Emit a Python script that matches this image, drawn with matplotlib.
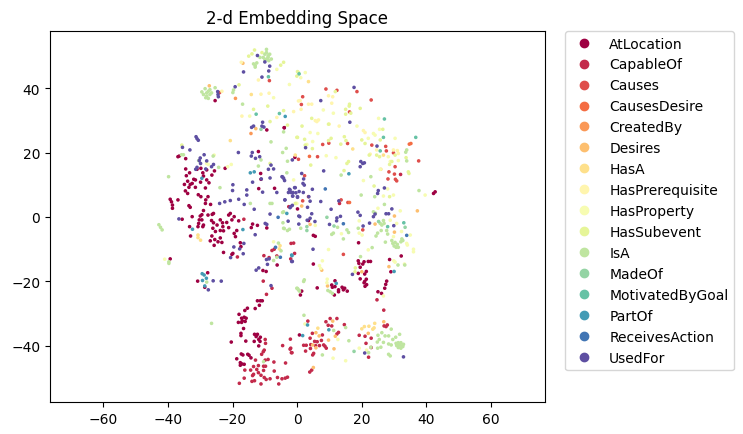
import numpy as np
import matplotlib
matplotlib.use("Agg")
import matplotlib.pyplot as plt
from matplotlib.lines import Line2D

relations = ["AtLocation", "CapableOf", "Causes", "CausesDesire", "CreatedBy", "Desires", "HasA",
             "HasPrerequisite", "HasProperty", "HasSubevent", "IsA", "MadeOf", "MotivatedByGoal",
             "PartOf", "ReceivesAction", "UsedFor"]

# points, in data units
at_location = [(-36.9,18.7),(-36.5,18.9),(-34.5,18.1),(-25.4,36.1),(-4,27.7),(-12,20.3),(-34.5,14.9),(-29.8,15.1),
    (-33.3,13.7),(-34.3,12.8),(-31,14.8),(-29.2,13.7),(-28,14.6),(-25.6,14.3),(-26.4,13),(-29,12.7),(-32,11.7),
    (-31.5,11.5),(-33.9,11.1),(-29.9,10.8),(-28,11.5),(-27.3,10.6),(-32.5,10.4),(-33.1,10.1),(-34.9,10.1),
    (-33.5,9.2),(-28.4,9),(-31.5,9.2),(-34.6,8.1),(-33.9,7.3),(-30.6,6.9),(-29.8,6.3),(-27.6,6.3),(-28.3,5.3),
    (-39.3,5.5),(-38.9,4.7),(-36.9,5.3),(-38.6,3.7),(-38.6,2.7),(-33.5,3.5),(-33.1,3),(-28.4,4.2),(-26.8,3.9),
    (-11.3,13.5),(-11.2,11.7),(-7,8.9),(-11.9,8.8),(-9.4,27),(-22.3,15.1),(-35.6,-0.7),(-32.5,0.1),(-29,2),
    (-27.6,0.6),(-30,0.3),(-29.5,0.7),(-30.3,-0.9),(-29.5,-0.9),(-30.5,-2),(-29,-2.5),(-30.7,-3),(-33.3,-3),
    (-33,-5.9),(-29.2,-3),(-26.5,-1.1),(-25.9,1.1),(-26.3,0.8),(-25.9,-1.8),(-24.8,-2.5),(-26.1,-3.5),(-25.3,-4.5),
    (-26.4,-5.9),(-23.8,-0.9),(-23.1,-1.8),(-21.8,-1.7),(-23.8,-4.2),(-22.8,-4.3),(-23,-3),(-21.2,-3.3),(-20.7,1.1),
    (-21.2,0.6),(-19.5,0.1),(-20.2,-0.9),(-18.1,-1.2),(-19.5,-5.1),(-18.7,-4.2),(-19.1,-6.1),(-26.9,-7.4),(-25.5,-7),
    (-24.5,-7.7),(-23.3,-7.9),(-23.8,-6.5),(-25.7,-8.8),(-17.6,-8),(-17.4,-9.2),(-22.8,-11),(-19.9,-11.3),(-20.2,-11.6),
    (-12.3,-2.6),(-13.8,-2.2),(-14.2,-3.3),(-9.4,-3.4),(-39.3,-13),(-27.7,-17.3),(-30.8,-19.9),(-28.6,-21.8),
    (-10.6,-16.6),(-9.6,-16.9),(-6.2,-14.9),(-12.3,-26),(-11.4,-26),(-10.8,-26),(-11.7,-27.4),(-13,-28.4),(-15.4,-28.3),
    (-16.2,-29),(-18,-30.2),(-17.2,-31.4),(-16.4,-31.1),(-15.8,-31.4),(-17,-32.2),(-16.1,-32.4),(-18.2,-32.7),
    (-17.2,-32.7),(-16.6,-34.6),(-17.4,-36.1),(-17.4,-36.8),(-15.9,-38.5),(-20.4,-38.8),(-13.2,-36.4),(-12.3,-36.4),
    (-12.7,-37.1),(-11.4,-37.3),(-11.9,-38),(-13.3,-38.6),(-11.5,-38.6),(-11.9,-40),(-17.3,-42.5),(-16.8,-42.8),
    (-15.3,-42.6),(-14.9,-42.9),(-18.7,-44),(-14.3,-43.7),(-17.6,-45.2),(-17.1,-45.6),(-16.4,-45.7),(-17.6,-46),
    (0.7,-36.6),(-4,27.7),(42.2,7.3),(42.7,7.8),(-0.7,18.5),(0.1,2.5),(3.5,-1.1),(5,-5.7),(5.6,-6),(19,-8),(32.2,-12.1),
    (28.6,-13.2),(18.9,-13.6),(19.1,-14.4),(19.5,-15.6),(20.7,-13.9),(20.3,-14.6),(22,-13.8),(22.7,-13.8),(18.9,-17.5),
    (21.4,-16.9),(20.9,-17.7),(19.5,-19.2),(21.4,-19.3),(20.9,-20),(20.7,-20.4),(21.5,-21),(21,-21.5),(29,-17),
    (27.7,-19.9),(27.4,-20.9),(27.1,-22.1),(25,-23.2),(26.1,-23.7),(11.7,-19.8),(10.7,-21.1),(11.7,-21.6),(10.9,-21.8),
    (13.9,-21.8),(14.7,-22.1),(12.8,-22.6),(12.8,-23.2),(14.3,-22.6),(15.5,-23),(11.5,-24.2),(6.2,-22),(5,-14.6),
    (1,-24.2),(1.4,-23)]
capable_of = [(-10.5,-19.9),(-7.8,-22.1),(-9.5,-24),(-9.9,-38),(-9.8,-39.2),(-10.2,-41.3),(-10.5,-41.8),(-11,-42.6),
    (-2.1,-37.9),(-4.5,-39.9),(-2,-40.7),(-2.2,-41),(-1.6,-42.1),(-12.9,-44.4),(-9.9,-44.4),(-9,-44.2),(-7.2,-45),
    (-3.6,-45.3),(-12,-46.1),(-13.5,-46.4),(-10.4,-46.3),(-9.8,-46.3),(-14.4,-47.5),(-12.5,-47.3),(-10.4,-47.6),
    (-16.2,-47.5),(-7.1,-47.8),(-12,-48.3),(-13.5,-48.8),(-13.8,-49.2),(-11.2,-49.1),(-16.4,-50),(-10.2,-49.8),
    (-9.6,-50.4),(-8.4,-50.2),(-6.1,-49.8),(-4.7,-50.2),(-3.7,-50),(-3,-49.7),(-14,-51),(-13.2,-50.8),(-17.9,-51.6),
    (-11.2,-51.8),(-5.7,-51.8),(-18.5,-12.4),(-10.3,-12),(-8.7,-12.6),(-6.3,-12.1),(-0.8,-11.3),(-1.9,-8.2),(-1.1,-8.1),
    (-7.1,-10),(-7.8,-10.4),(-16.5,-0.7),(-2,-13),(32,13.2),(-2.6,3.2),(13.1,4.2),(24.7,-25.7),(26.8,-28.9),(3.3,-32.3),
    (8.9,-32.5),(10.2,-31.5),(12.3,-31.5),(14.6,-33.4),(9.6,-33.6),(10.7,-33.8),(12.8,-35.8),(12.3,-36.3),(4.7,-36.1),
    (7.8,-36.6),(4,-37.6),(5.4,-38.6),(6.2,-38.7),(7.5,-38.3),(5.7,-39.9),(2,-39.8),(2.8,-39.8),(4.2,-39.6),(6.9,-39.9),
    (8.2,-39.7),(8.6,-40.1),(4.1,-40.8),(9,-40.7),(2.6,-41.6),(-1.8,-42.1),(5.1,-42.3),(4.8,-42.8),(3.9,-48.1),(4.5,-47.5),
    (19.2,-36.7),(21,-37),(22.9,-37.6),(21.3,-39.2),(22.9,-40.5),(22.1,-43.5),(26.9,-33.8),(27.5,-34),(27.9,-33.5)]
causes = [(8.9,39.7),(12.3,39.3),(18.5,38.9),(1.7,37.3),(22.9,36.3),(1.3,34.9),(16.2,32.6),(9.8,22.9),(7.9,22.5),
    (15.6,22.8),(23.1,22.3),(27.4,21.9),(27.6,20.5),(29.8,19.9),(6.3,18.7),(37.6,17.4),(30.3,15.6),(28.4,14),(30.1,13.3),
    (28.1,11.8),(30.4,11.7),(30.8,11.2),(1.7,5),(13.6,5.3),(15.7,4.5),(2.3,12.8),(3.5,6.3),(0.4,17.9),(14.3,-11.6),
    (20.3,-4),(-8.6,42.3),(-24,38.6)]
causes_desire = [(3.8,18.8),(35.2,22.8),(16.2,4.5),(34.7,22.6)]
created_by = [(-19.1,36.8),(-14.3,25.9)]
desires = [(1.4,3.4),(30.1,0.3),(37.2,1.9),(-12.8,27.4),(-27.2,40.7),(-16.8,47.7),(26.8,-32.5),(22,-36.1),(9.7,-38.2),
    (6.8,-36.9),(5.8,-35.9),(11.8,-37),(11.4,-40.9),(5.8,-40.6),(4.8,-39.7),(11,-32.3),(5,-46.7),(28.4,-15.4),(9.4,-21.4),
    (7.6,-16.5),(20,-17),(4,-2.3),(24.1,-2.2),(30.1,-4.7)]
has_a = [(3.5,42),(-0.6,19.2),(26.7,19.2),(17.2,21.1),(25.9,14.8),(-20.7,23.7),(-14.2,38),(24,-33),(20.8,-34),(20,-34.7),
    (22.2,-33.9),(23.8,-34.4),(23.4,-34.8),(6.4,-34.5),(-30.7,-5.6),(-30.7,-6.4),(-29.9,-7.2),(-5.3,-8.9),(-5.5,-9.9)]
has_prerequisite = [(-23.3,39),(-17.3,48),(-12,42.5),(-11.2,38.1),(-8.7,38.4),(0.4,36),(-17.1,31.3),(-6.3,30.9),(-1.1,32.7),
    (9.7,37.6),(11,37.3),(0.9,36.1),(1.2,33.4),(3.5,35),(4.5,35),(10.7,35.3),(5.6,29.9),(6.6,30.1),(6.1,29.6),(9.9,28.8),
    (13,28.2),(20.5,26.8),(21,26.2),(24.6,20.8),(22.6,19.5),(29.8,20.8),(31,20.6),(31.3,19.7)]
has_property = [(-6.3,45.8),(-7.3,37),(-14.7,31.3),(-2.4,41.1),(-20.4,16.3),(-21.5,15.6),(-25.7,19.2),(-1.1,11.5),(-28,16.6),
    (-27.5,16.3),(-0.3,4.2),(2.5,44.8),(1.1,43.2),(8.1,33.2),(11.2,32.2),(25.2,30.6),(18.5,28.2),(23.6,25.9),(25.5,27.2),
    (30.3,24.4),(4,26.2),(6.4,25.9),(22,24.4),(24.1,25.4),(4.8,23.4),(3,22.5),(9,19),(12,18.4),(28.2,18.7),(31.3,17.5),
    (28.8,17.2),(25.7,14.8),(20.5,11.3),(28,8.7),(26.7,6.5),(29.8,6.8),(39.6,6.8),(31.9,1.9),(25,2.7),(-0.1,4.2),
    (9.7,-10.1),(7.8,-13.6),(6.9,-15.1),(7.3,-16),(9.3,-19.3),(9.2,-20.4),(26.7,-24.5),(29.9,-13.6),(33.2,-14.6),(33.9,-8.2),
    (36,-10),(36,-10.8),(34.1,-8.7),(35,-5.6),(32.3,-4.5),(19.2,-1.2),(30.8,-2),(28.8,-1),(20.1,-5.6),(19.2,-5),(13.7,-5.2),
    (22,-10.2),(29.8,-6.1),(5.6,-2.6),(12.6,-38),(11.1,-43.8),(15,-44.6),(19.2,-40.7),(21.5,-41.3),(2.4,-33.2),(30.3,-14),
    (-41,-13.1),(-7.3,-7.7)]
has_subevent = [(-13.2,51.8),(-14,50.6),(-15,49.9),(-10.9,51),(-5.1,47.1),(-4.2,48),(-18,41),(-13.5,33.4),(-9.1,34.4),(-4.2,33),
    (-8.4,29.6),(-3,28.5),(0.1,24.7),(-35.7,22.3),(0.4,44.8),(-8.4,16.6),(-0.6,4.2),(0.1,45.1),(-0.1,43.7),(11.8,38.9),
    (16.2,35),(16.1,34.4),(15,33.4),(16.6,32.2),(15,31.9),(19.5,33.7),(4.5,30.6),(1.5,28.2),(9.7,28.8),(-0.1,24.7),(2.3,24.1),
    (10.5,24.4),(9.7,23.7),(14.6,24.9),(15.1,23.7),(20,23.9),(21,22.8),(13.5,22.6),(4.7,21.2),(25.7,23.9),(26.5,27.2),(2.5,22.3),
    (4.2,16.1),(15.4,16.6),(15.9,17.2),(22.3,19.2),(24.6,19.2),(25.5,18.7),(30.3,19.2),(33.7,18.4),(29.3,17.2),(28.6,16.3),
    (34.4,14),(34.6,13.5),(14.5,14.4),(23.8,9.6),(28.6,6.3),(18,-15.8),(17.9,-17)]
is_a = [(-29.5,38.8),(-29,38),(-28.5,39.8),(-28,38.5),(-28,37.5),(-27.5,39),(-27,38),(-27.5,36.8),(-28.3,37),(-27,39.5),(-26.5,38.5),
    (-10.5,49.5),(-10,50.5),(-9.5,51),(-9,49.5),(-9.5,49),(-9,50),(-8.5,50.5),(-10,48.8),(-8.8,48.5),(-8,49),(-11.5,49.5),(-9.5,52),
    (-13.5,47.5),(-13,47),(-12.5,47.8),(-13,46.5),(-19.7,39.4),(-19.9,38.6),(-16.9,35),(-25.4,40.1),(-8.1,23.3),(-4.2,26.4),
    (-23.9,9.1),(-39.8,12.5),(-26,18.9),(-35.8,19.3),(-35.2,19.3),(-24.3,15.4),(-30.5,17.5),(-8.4,4.2),(-7.8,4.2),(-4.5,1.4),(-4.2,1.6),
    (-14.5,4.2),(-3.4,21.3),(-4.5,20),(-3,17.3),(-3.2,13.7),(-11.2,17.7),(-12,15.8),(13.6,13),(22.8,12.5),(19.8,6.8),(37.7,8.2),
    (24,6.3),(27,3.9),(33.9,20.8),(33.6,20.1),(33.9,17.4),(23.6,1.6),(24.2,1.2),(-42.8,-2.4),(-42.3,-3.2),(-41.8,-4),(-39.7,-13.9),
    (-39.7,-14.4),(-26.5,-33),(-10.4,-44.9),(0.1,-22.2),(0.7,-23),(-5,-10.5),(-7.3,-13.5),(-6.3,-12.5),(-5.8,-8.1),(-4.4,-1.8),(-4,-3.6),
    (-3,-4.2),(-28,-20.2),(30.6,-39.2),(31.3,-39),(32.1,-39),(32.9,-39.5),(30.8,-39.9),(31.7,-39.7),(32.4,-40),(31.3,-40.5),(32.1,-40.7),
    (32.7,-40.2),(29.6,-8.2),(30.3,-7.9),(31,-8.5),(30,-9),(30.6,-9.4),(31.3,-9.4),(29.3,-7.3),(32.4,-6.8),(32.1,-7.7),(32.7,-7.3),
    (27.3,-7.8),(25.7,-2),(26.7,-1.1),(26.9,-2),(26.2,-2.5),(26,-4.2),(27.7,-4.2),(28,-5.3),(24.9,-5),(24.4,-5.9),(23.2,-9.5),(19.6,-12.3),
    (33.3,-14.9),(31.2,-14.9),(-4.2,-3.5),(-2.4,-3.8),(1.1,-3.5),(12.5,-3.2),(15.4,-4),(15.9,-4.8),(14.3,-6.8),(11.2,-5),(10.7,-5.4),
    (18.9,-3.5),(2.2,-19.5),(2,-20),(-0.1,-22.1),(0.4,-22.6),(9.5,-22.8),(10.2,-23.2),(10.9,-23.7),(2.1,-30.5),(15,-34.3),(11.3,-35.2),
    (7.8,-42.8),(16,-38.4),(25,-36.7),(26.2,-35.9),(27.2,-36.9),(28.3,-36.9),(25.4,-38),(24.8,-38.8),(26.7,-38.9),(28.3,-39.4),(29.1,-39.7),
    (29.6,-38),(30.5,-37.3),(31.7,-36.4),(29.1,-34.8),(25.9,-40.4),(24.9,-40.7),(22.8,-40.4),(22.1,-42.1),(28.3,-42.6),(28.8,-43.1)]
made_of = [(-11.2,27.2),(9.2,-0.1),(17.6,-41.7),(25.2,-1.4),(3,-3),(3,-4.2),(11.4,-2.8),(33.4,-3.2)]
motivated_by_goal = [(0.6,44.4),(27,30.4),(26.7,24.7),(36.7,24.7),(25.7,20.5),(-8.9,43.5),(-12.7,31.9),(-5.5,32.1),(33,-1.8),(28,-3)]
part_of = [(-3.7,31.2),(16,13.4),(-3.2,1.1),(-14.5,13.7),(-13.3,14),(-29.5,12),(-32.4,-3.8),(-16.8,-3.9),(-29.4,-17.6),(-28.8,-18),
    (-28.1,-19),(-29.3,-19.7),(-28.6,-21.4),(-1.6,-12),(3.2,-33.5),(1.7,-36.8),(9.8,-35),(-1.7,-11.8),(12.1,-20.6),(30,-16.9)]
receives_action = [(8.7,8.7),(-5.9,-0.1),(-5.2,-12.5),(-6.7,-9.4),(14.3,-2.1),(33.9,-5.7)]
used_for = [(17.6,40.2),(7.3,36.1),(16.3,29.4),(24.7,22),(2.6,21.5),(-1.5,17.7),(19.7,17.2),(20.3,16.6),(20.8,16.8),(19.5,15.6),(8.2,14.3),
    (1.4,13.5),(-4.7,12.5),(-4.2,12),(-3.9,11.3),(2,11.8),(1.8,10.4),(2.2,9.9),(4.7,8.6),(-0.6,9.1),(-2.4,8.6),(-2.7,7.6),(-1.9,7.6),
    (-0.4,7.5),(0.6,7.9),(1.9,7.6),(-1.4,6.5),(0.1,6.3),(3.6,6.3),(4,4.9),(-3.8,5.3),(7.3,4.8),(-1.5,3.6),(-2.2,2.9),(3.2,3),(10.5,2.4),
    (12.9,5),(0.8,0.1),(4.5,1),(12.3,-0.3),(13.4,0.2),(18.8,1.5),(19.5,0.5),(23.6,0.1),(24.1,0.9),(27.5,1),(28.3,1),(29.3,2.5),(25.1,8.2),
    (24.9,7.3),(27,9),(4,-0.4),(-31.3,24.9),(-31,24.3),(-30.6,23.8),(-35.5,21.6),(-33.2,20.8),(-28.8,19.3),(-30,18.3),(-30.3,17.5),(-28,17.4),
    (-29.9,16.6),(-25.9,16.3),(-26.5,15.6),(-31,15.4),(-28.3,14.9),(-31.4,14.8),(-18.2,20),(-13.9,20),(-14.2,18.9),(-12.9,18.2),(-11.6,18.7),
    (-8.1,16.1),(-8.9,14.8),(-7.3,14.9),(-11.1,11.8),(-8.4,12.1),(-4.5,12.4),(-13.8,10.8),(-19.9,10),(-20,8.2),(-15.6,8.4),(-15.6,6.8),
    (-10.7,7.7),(-6.3,7.6),(-2.2,8.4),(-0.8,9.1),(-1.3,7.6),(-18.1,5.5),(-20.7,5.1),(-22.4,4.7),(-24,4.2),(-16.4,3.9),(-13.3,2.4),(-3.8,5.3),
    (-1.4,6.5),(0.1,6.1),(-2,3.2),(-8.4,0.9),(-19.2,40.4),(-24.6,38.9),(-24.5,38),(-24.4,37.3),(-12.3,50.1),(-10,48.1),(-8.5,46.8),(-8.8,45.3),
    (-10.9,43.4),(-16.6,45),(-10.7,29.4),(-10.9,28.2),(-10.3,27.9),(-14.1,27.8),(-13.5,28.2),(-36.6,-0.6),(-19.6,-9.3),(-16.5,-8.2),(-17.8,-9.9),
    (-16.7,-11.4),(-20.6,-12.6),(-13,-5.5),(-9.9,-2),(-9.4,-2.3),(-2.8,-1.3),(0.5,-2.2),(-9.5,-13.2),(-8.7,-13),(-9.2,-14.7),(-1.5,-13.8),
    (-11.9,-15.8),(-12.7,-16.5),(-26,-19.8),(-23.5,-19.9),(-27.5,-22.6),(-8.1,-21.3),(0.5,0.3),(3.1,-1),(5.5,-1.4),(10,-2.3),(12.2,-1.2),(22.4,-1.9),
    (20.4,-2.8),(29.9,-2.7),(4.9,-10),(-1.7,-13.8),(17.1,-17.8),(20.9,-42.2),(32.9,-43.4)]

points_by_relation = [at_location, capable_of, causes, causes_desire, created_by, desires, has_a, has_prerequisite,
                      has_property, has_subevent, is_a, made_of, motivated_by_goal, part_of, receives_action, used_for]

fig = plt.figure(figsize=(7.43, 4.35), dpi=100)
ax = fig.add_axes([50 / 743, 32 / 435, 495 / 743, 371 / 435])

# one scatter call so all relations share the Spectral scale
x = np.array([p[0] for pts in points_by_relation for p in pts])
y = np.array([p[1] for pts in points_by_relation for p in pts])
labels = np.array([i for i, pts in enumerate(points_by_relation) for p in pts])
ax.scatter(x, y, c=labels, cmap="Spectral", vmin=0, vmax=len(relations) - 1, s=2.5)

ax.set_xlim(-76.5, 76.7)
ax.set_ylim(-57.4, 57.7)
ax.set_title("2-d Embedding Space", fontsize=12)

handles = [
    Line2D([0], [0], marker="o", linestyle="", color=plt.cm.Spectral(i / (len(relations) - 1)), label=name)
    for i, name in enumerate(relations)
]
ax.legend(handles=handles, bbox_to_anchor=(1.04, 1.0), loc="upper left", borderaxespad=0)

fig.savefig("out.png", dpi=100)
